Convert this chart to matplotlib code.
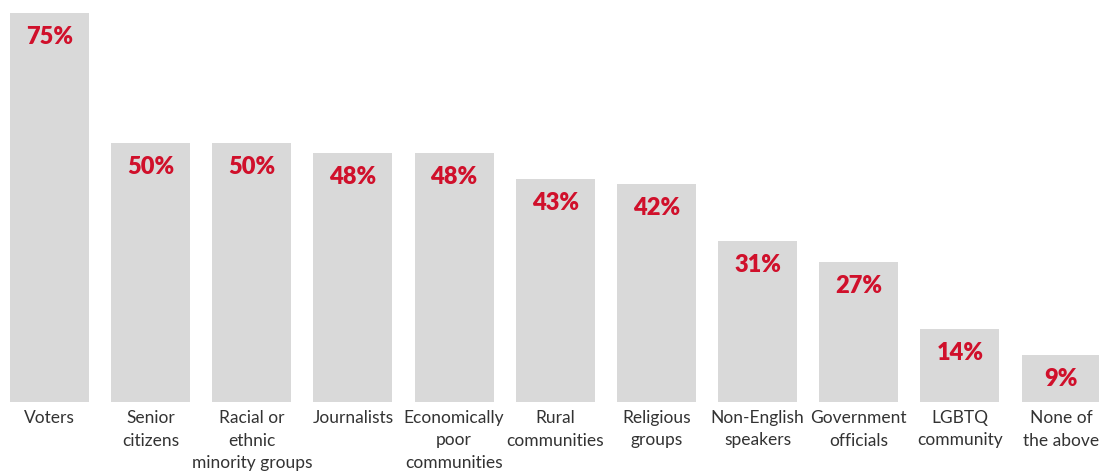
import matplotlib.pyplot as plt

# categories and percentages
categories = ['Voters', 'Senior\ncitizens', 'Racial or\nethnic\nminority groups', 'Journalists',
              'Economically\npoor\ncommunities', 'Rural\ncommunities', 'Religious\ngroups',
              'Non-English\nspeakers', 'Government\nofficials', 'LGBTQ\ncommunity', 'None of\nthe above']
values = [75, 50, 50, 48, 48, 43, 42, 31, 27, 14, 9]
value_labels = ['75%', '50%', '50%', '48%', '48%', '43%', '42%', '31%', '27%', '14%', '9%']

fig = plt.figure(figsize=(10.99, 4.71), dpi=100)
ax = fig.add_axes([0, 69 / 471, 1, 402 / 471])

x = list(range(len(values)))
ax.bar(x, values, width=0.78, color='#d9d9d9')

for i, (v, lab) in enumerate(zip(values, value_labels)):
    # percentage inside the top of each bar
    ax.annotate(lab, xy=(i, v), xytext=(0, -24), textcoords='offset pixels',
                ha='center', va='center', color='#d0102b', fontsize=17,
                fontweight='heavy', family='Lato')
    # category name under the bar
    ax.annotate(categories[i], xy=(i, 0), xytext=(0, -8), textcoords='offset pixels',
                ha='center', va='top', color='#333333', fontsize=12.5,
                family='Lato', linespacing=1.5, annotation_clip=False)

ax.set_xlim(-0.489, 10.376)
ax.set_ylim(0, 77.5)
ax.axis('off')

plt.savefig('out.png', dpi=100)
